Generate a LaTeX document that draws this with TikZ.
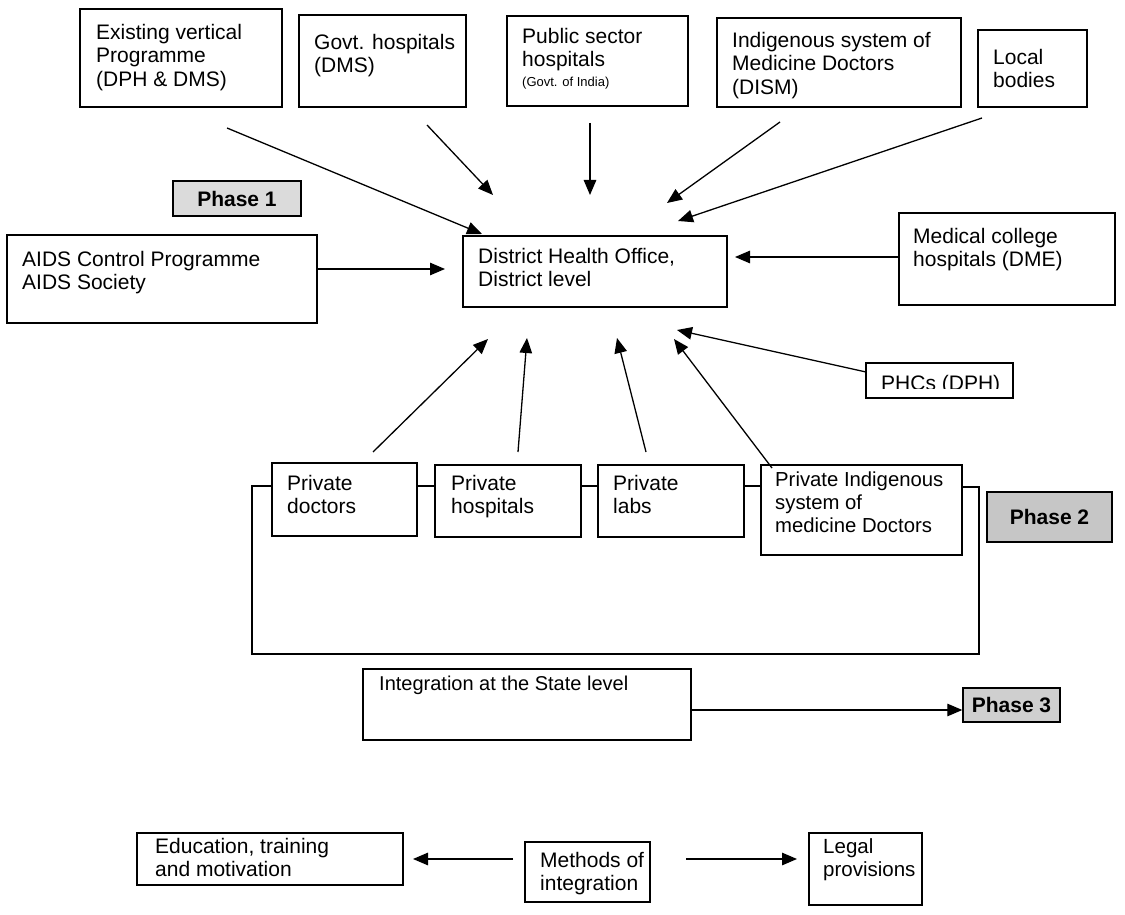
\documentclass[tikz,border=0pt]{standalone}
\usepackage{fontspec}
\setmainfont{Liberation Sans}
\usetikzlibrary{arrows.meta,fit}
\begin{document}
\begin{tikzpicture}[x=1pt, y=-1pt,
  box/.style={draw, inner sep=0pt, line width=1.4pt},
  txt/.style={inner sep=0pt, anchor=north west, align=left,
              font=\fontsize{21}{23.5}\selectfont},
  smalltxt/.style={inner sep=0pt, anchor=north west,
              font=\fontsize{13}{15}\selectfont},
  phasebox/.style={draw, line width=1.4pt, inner sep=0pt,
              font=\bfseries\fontsize{21}{24}\selectfont},
  arr/.style={line width=1.3pt, -{Triangle[length=15pt,width=12.5pt]}},
  link/.style={line width=1.3pt}]
\useasboundingbox (0,0) rectangle (1125,915);

% ---- sources feeding the district office (top row) ----
\node[box, fit={(80,9) (282,107)}] (exist) {};
\node[txt] (exist-t) at (96,24) {Existing vertical\\Programme\\(DPH \& DMS)};
\node[box, fit={(299,15) (466,107)}] (govt) {};
\node[txt] (govt-t) at (314,34) {Govt. hospitals\\(DMS)};
\node[box, fit={(507,16) (688,106)}] (pub) {};
\node[txt] (pub-t) at (522,28) {Public sector\\hospitals};
\node[smalltxt] (pub-n) at (522,77) {(Govt. of India)};
\node[box, fit={(717,18) (961,107)}] (ism) {};
\node[txt] (ism-t) at (732,32) {Indigenous system of\\Medicine Doctors\\(DISM)};
\node[box, fit={(978,30) (1087,107)}] (local) {};
\node[txt] (local-t) at (993,49) {Local\\bodies};

% ---- phase 1 block ----
\node[phasebox, fill=gray!28, minimum width=128pt, minimum height=35pt]
  (ph1) at (237,198.5) {Phase 1};
\node[box, fit={(7,235) (317,323)}] (aids) {};
\node[txt] (aids-t) at (22,251) {AIDS Control Programme\\AIDS Society};
\node[box, fit={(463,236) (727,307)}] (dho) {};
\node[txt] (dho-t) at (478,248) {District Health Office,\\District level};
\node[box, fit={(899,213) (1115,305)}] (med) {};
\node[txt] (med-t) at (913,228) {Medical college\\hospitals (DME)};
\node[box, fit={(866,363) (1013,398)}] (phc) {};
\begin{scope}
  \clip (866,363) rectangle (1013,388);
  \node[txt] (phc-t) at (881,375) {PHCs (DPH)};
\end{scope}

% ---- private sector row (phase 2) ----
\node[box, fit={(272,463) (417,536)}] (pdoc) {};
\node[txt] (pdoc-t) at (287,475) {Private\\doctors};
\node[box, fit={(435,465) (581,537)}] (phosp) {};
\node[txt] (phosp-t) at (451,475) {Private\\hospitals};
\node[box, fit={(598,465) (744,537)}] (plabs) {};
\node[txt] (plabs-t) at (613,475) {Private\\labs};
\node[box, fit={(761,465) (962,555)}] (pism) {};
\node[txt, font=\fontsize{20.3}{23}\selectfont] (pism-t) at (775,472)
  {Private Indigenous\\system of\\medicine Doctors};
\node[phasebox, fill=gray!45, minimum width=125pt, minimum height=50pt]
  (ph2) at (1049.5,517) {Phase 2};

% ---- phase 3 ----
\node[box, fit={(363,669) (691,740)}] (integ) {};
\node[txt, font=\fontsize{20}{23}\selectfont] (integ-t) at (379,676)
  {Integration at the State level};
\node[phasebox, fill=gray!38, minimum width=97pt, minimum height=34pt]
  (ph3) at (1011.5,705) {Phase 3};

% ---- methods of integration ----
\node[box, fit={(137,833) (403,885)}] (edu) {};
\node[txt] (edu-t) at (155,838) {Education, training\\and motivation};
\node[box, fit={(525,842) (650,902)}] (meth) {};
\node[txt] (meth-t) at (540,852) {Methods of\\integration};
\node[box, fit={(809,833) (922,905)}] (legal) {};
\node[txt, font=\fontsize{20.5}{23.5}\selectfont] (legal-t) at (823,838)
  {Legal\\provisions};

% ---- connector end points ----
\coordinate (exist-o) at (227,128);  \coordinate (dho-i1) at (482,234);
\coordinate (govt-o)  at (427,125);  \coordinate (dho-i2) at (493,195);
\coordinate (pub-o)   at (590,123);  \coordinate (dho-i3) at (590,195);
\coordinate (ism-o)   at (780,122);  \coordinate (dho-i4) at (667,203);
\coordinate (local-o) at (982,118);  \coordinate (dho-i5) at (678,221);
\coordinate (aids-o)  at (317,269);  \coordinate (dho-i6) at (445,269);
\coordinate (med-o)   at (899,257);  \coordinate (dho-i7) at (735,257);
\coordinate (phc-o)   at (866,372);  \coordinate (dho-i8) at (677,330);
\coordinate (pdoc-o)  at (373,452);  \coordinate (dho-i9) at (488,339);
\coordinate (phosp-o) at (518,452);  \coordinate (dho-i10) at (527,338);
\coordinate (plabs-o) at (646,452);  \coordinate (dho-i11) at (617,338);
\coordinate (pism-o)  at (772,468);  \coordinate (dho-i12) at (674,339);
\coordinate (brk-l) at (252,486);
\coordinate (brk-r) at (979,487);
\coordinate (meth-l) at (513,859);   \coordinate (edu-i) at (413,859);
\coordinate (meth-r) at (686,859);   \coordinate (legal-i) at (797,859);

% ---- arrows into the district office ----
\draw[arr] (exist-o) -- (dho-i1);
\draw[arr] (govt-o) -- (dho-i2);
\draw[arr] (pub-o) -- (dho-i3);
\draw[arr] (ism-o) -- (dho-i4);
\draw[arr] (local-o) -- (dho-i5);
\draw[arr] (aids-o) -- (dho-i6);
\draw[arr] (med-o) -- (dho-i7);
\draw[arr] (phc-o) -- (dho-i8);
\draw[arr] (pdoc-o) -- (dho-i9);
\draw[arr] (phosp-o) -- (dho-i10);
\draw[arr] (plabs-o) -- (dho-i11);
\draw[arr] (pism-o) -- (dho-i12);

% ---- links joining the private sector row ----
\draw[link] (pdoc.east |- brk-l) -- (phosp.west |- brk-l);
\draw[link] (phosp.east |- brk-l) -- (plabs.west |- brk-l);
\draw[link] (plabs.east |- brk-l) -- (pism.west |- brk-l);
\draw[link] (pdoc.west |- brk-l) -- (brk-l) -- (252,654) -- (979,654)
  -- (brk-r) -- (pism.east |- brk-r);

% ---- phase 3 and methods ----
\draw[arr] (integ.east |- 0,710) -- (ph3.west |- 0,710);
\draw[arr] (meth-l) -- (edu-i);
\draw[arr] (meth-r) -- (legal-i);
\end{tikzpicture}
\end{document}
